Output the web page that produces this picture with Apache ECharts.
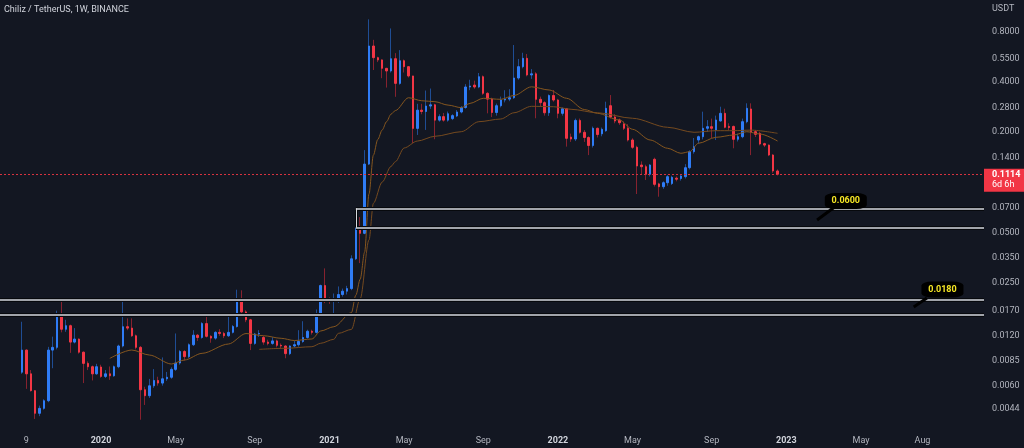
<!DOCTYPE html>
<html><head><meta charset="utf-8">
<script src="https://cdn.jsdelivr.net/npm/echarts@6/dist/echarts.min.js"></script>
<style>html,body{margin:0;padding:0;background:#131722;}#c{width:1024px;height:448px;}</style>
</head><body><div id="c"></div>
<script>
const chartTitle = 'Chiliz / TetherUS, 1W, BINANCE';
const quoteUnit = 'USDT';
// weekly candles, first candle = week of 2019-09-02
const firstCandleWeek = 5;
const open = [
.00726,.00985,.0071,.00563,.00412,.00441,.0049,.00985,.01023,.0159,
.01313,.01379,.0110,.01147,.00957,.0082,.00783,.0071,.0078,.00685,
.0071,.00691,.00783,.01042,.0136,.01334,.012,.01023,.0057,.00525,
.00602,.00648,.00625,.00663,.00677,.00755,.00824,.00966,.009,.01061,
.0121,.01172,.0142,.01191,.01162,.01258,.01239,.012,.01258,.01363,
.0196,.01668,.01496,.0108,.01229,.01172,.011,.0108,.01118,.01052,
.01042,.00938,.01042,.01061,.01109,.01172,.01277,.01258,.0159,.024,
.0196,.0193,.0196,.0212,.0222,.023,.0347,.0532,.0493,.1281,
.653,.556,.539,.480,.463,.548,.390,.533,.491,.432,
.2096,.2696,.2646,.2853,.2902,.2349,.2466,.2349,.240,.2487,
.2628,.2796,.371,.381,.371,.4276,.340,.314,.261,.2866,
.310,.314,.320,.420,.491,.551,.438,.445,.313,.299,
.260,.330,.310,.258,.275,.186,.181,.234,.1986,.1849,
.1656,.2099,.1945,.203,.2866,.2453,.2353,.2227,.2099,.1786,
.1615,.1265,.1236,.1113,.1369,.0975,.0938,.0991,.098,.1055,
.105,.1077,.1219,.152,.1786,.1869,.2099,.2146,.205,.2323,
.258,.2154,.2154,.1803,.1869,.2299,.274,.2003,.1955,.1698,
.1665,.1452,.1165];
const high = [
.01456,.00995,.00748,.00566,.00458,.0050,.0103,.01186,.01696,.0196,
.01496,.0140,.01334,.01157,.00966,.00843,.00796,.00815,.00805,.00748,
.00786,.00796,.01061,.0196,.01525,.01525,.0122,.01042,.00594,.00662,
.00758,.00682,.0089,.00729,.00777,.01239,.00985,.00985,.0108,.01296,
.01229,.01448,.01572,.0121,.01277,.01315,.01267,.01572,.01391,.02266,
.02247,.01706,.01515,.01248,.01296,.012,.01137,.01177,.01137,.0108,
.01052,.01052,.01118,.01296,.01467,.01305,.01305,.01725,.0243,.0304,
.02036,.0215,.0237,.023,.0239,.0364,.0539,.0617,.1554,.943,
.711,.563,.543,.483,.832,.592,.617,.542,.493,.433,
.2943,.2943,.3533,.3632,.2943,.2546,.2595,.2645,.255,.27,
.285,.386,.41,.405,.45,.435,.345,.32,.295,.325,
.355,.36,.662,.546,.595,.585,.475,.455,.325,.305,
.335,.356,.315,.28,.278,.195,.24,.24,.205,.188,
.215,.212,.212,.303,.332,.255,.24,.23,.222,.183,
.165,.133,.127,.128,.14,.099,.101,.11,.109,.108,
.11,.128,.155,.1836,.19,.264,.235,.24,.25,.2827,
.275,.225,.218,.195,.24,.2963,.2963,.205,.20,.172,
.168,.147,.119];
const low = [
.0071,.00577,.00556,.00381,.00396,.00433,.0048,.00767,.00995,.01258,
.01267,.00948,.0108,.00938,.00625,.00748,.00648,.00701,.00672,.0067,
.00653,.00682,.00767,.01023,.01296,.01181,.00995,.00377,.00462,.00509,
.00585,.00603,.00603,.00644,.00663,.00739,.00805,.00852,.00881,.01042,
.01118,.01153,.01172,.0109,.01137,.012,.01162,.01181,.01239,.01344,
.0162,.01448,.00985,.01061,.01181,.0106,.01052,.01061,.01023,.01004,
.0088,.00919,.01023,.01033,.0109,.01153,.0122,.01239,.01572,.01882,
.01863,.01553,.0189,.0206,.0212,.0225,.0341,.0327,.0487,.1264,
.469,.523,.419,.368,.453,.324,.383,.453,.423,.1706,
.1915,.2547,.2052,.2744,.1805,.230,.230,.230,.235,.245,
.258,.275,.355,.362,.365,.333,.258,.245,.25,.28,
.30,.305,.315,.41,.48,.43,.415,.241,.285,.25,
.249,.303,.241,.25,.163,.174,.176,.195,.174,.145,
.161,.185,.188,.20,.24,.225,.22,.205,.175,.158,
.0848,.1102,.1029,.108,.094,.0817,.091,.095,.096,.101,
.102,.105,.119,.148,.17,.18,.20,.1836,.1786,.23,
.21,.205,.1593,.175,.183,.225,.145,.186,.166,.162,
.143,.1135,.1095];
const close = [
.00985,.0071,.00563,.00412,.00441,.0049,.00985,.01023,.0159,.01313,
.01379,.0110,.01147,.00957,.0082,.00783,.0071,.00783,.00685,.0071,
.00691,.00783,.01042,.0136,.01334,.012,.01023,.0057,.00525,.00602,
.00648,.00625,.00663,.00677,.00755,.00824,.00966,.009,.01061,.0121,
.01172,.0142,.01191,.01162,.01258,.01239,.012,.01258,.01363,.0196,
.01668,.01496,.0108,.01229,.01239,.011,.0108,.01118,.01052,.01042,
.00938,.01042,.01061,.01109,.01172,.01277,.01258,.0159,.024,.0196,
.0193,.0196,.0212,.0222,.023,.0347,.0532,.0493,.1281,.653,
.556,.539,.480,.463,.548,.390,.533,.491,.432,.2096,
.2696,.2646,.2853,.2902,.2349,.2466,.2349,.2566,.250,.2628,
.2796,.371,.376,.371,.4276,.340,.314,.261,.2866,.310,
.314,.320,.420,.491,.551,.438,.445,.313,.299,.260,
.330,.310,.258,.275,.1828,.181,.234,.1986,.1849,.1656,
.2099,.1927,.207,.2765,.2453,.232,.2267,.2099,.1786,.1615,
.1248,.1236,.1113,.1265,.0969,.0938,.0991,.1077,.1067,.104,
.1087,.1219,.152,.1628,.1869,.2099,.2146,.2099,.2353,.258,
.2128,.2122,.1803,.1869,.2299,.2765,.2003,.1932,.169,.1665,
.1452,.1165,.1114];
// moving averages: [candle index, value]
const maFast = [[20,.00879],[25,.00986],[29,.0092],[34,.00813],[37,.00859],[41,.00942],[47,.01071],[51,.01238],[55,.01201],[59,.01159],[62,.01124],[66,.01148],[68,.01282],[71,.0136],[75,.0165],[76,.0210],[77,.0262],[78,.038],[79,.085],[80,.145],[81,.180],[82,.205],[83,.230],[84,.255],[85,.268],[88,.320],[91,.307],[94,.303],[97,.289],[100,.279],[102,.296],[105,.3175],[109,.313],[112,.33],[116,.372],[120,.356],[124,.3175],[128,.272],[131,.258],[136,.2353],[139,.207],[143,.1786],[147,.1593],[150,.1487],[152,.152],[154,.1707],[158,.1854],[162,.1913],[165,.2003],[168,.194],[172,.1761]];
const maSlow = [[54,.00995],[60,.0101],[66,.01032],[68,.01082],[71,.01143],[72,.0124],[75,.0131],[77,.0200],[79,.045],[80,.0746],[82,.1000],[84,.1240],[85,.1324],[87,.1600],[90,.1760],[94,.1880],[100,.2003],[104,.2299],[109,.2386],[112,.2600],[116,.2843],[121,.2827],[125,.2728],[131,.260],[139,.241],[147,.2128],[153,.1986],[158,.2031],[162,.2031],[166,.2046],[172,.1959]];
const yTicks = [0.8, 0.55, 0.4, 0.28, 0.2, 0.14, 0.07, 0.05, 0.035, 0.025, 0.017, 0.012, 0.0085, 0.006, 0.0044];
const xTickLabels = [['2019-09-09','9'],['2020-01-06','2020'],['2020-05-04','May'],['2020-09-07','Sep'],['2021-01-04','2021'],['2021-05-03','May'],['2021-09-06','Sep'],['2022-01-03','2022'],['2022-05-02','May'],['2022-09-05','Sep'],['2023-01-02','2023'],['2023-05-01','May'],['2023-08-07','Aug']];
const lastPrice = 0.1114, countdown = '6d 6h';
// drawn zones (rectangles) and callouts
const zoneUpper = {fromWeek: 81, top: 0.0696, bottom: 0.0533, leftEdge: true};
const zoneLower = {fromWeek: 0, top: 0.01966, bottom: 0.01609, leftEdge: false};
const callouts = [
  {text: '0.0600', boxWeek: 193, boxValue: 0.0770, tipWeek: 186, tipValue: 0.0592, baseWeek: 190, baseValue: 0.0709},
  {text: '0.0180', boxWeek: 215, boxValue: 0.02272, tipWeek: 208, tipValue: 0.01784, baseWeek: 211, baseValue: 0.0202}
];

const weeks = [];
for (let k = 0; k < 225; k++) weeks.push(new Date(Date.UTC(2019, 6, 29) + k * 604800000).toISOString().slice(0, 10));
const labelMap = {};
xTickLabels.forEach(([d, t]) => labelMap[d] = t);

const UP = '#2f7cf6', DOWN = '#f23645', UPW = '#1f4d94', DOWNW = '#86222f';
const candleData = open.map((o, i) => [weeks[firstCandleWeek + i], o, close[i], low[i], high[i]]);
const bodyData = open.map((o, i) => [weeks[firstCandleWeek + i], o, close[i], Math.min(o, close[i]), Math.max(o, close[i])]);
const lastW = weeks.length - 1;

const markLineData = [];
// zone outlines: dark halo then light line
function seg(x1, y1, x2, y2, color, width, type) {
  return [{coord: [weeks[x1], y1], lineStyle: {color: color, width: width, type: type || 'solid'}, label: {show: false}},
          {coord: [weeks[x2], y2]}];
}
[['#07090d', 4], ['#d6d9df', 1.5]].forEach(([col, w]) => {
  [zoneUpper, zoneLower].forEach(z => {
    markLineData.push(seg(z.fromWeek, z.top, lastW, z.top, col, w));
    markLineData.push(seg(z.fromWeek, z.bottom, lastW, z.bottom, col, w));
    if (z.leftEdge) markLineData.push(seg(z.fromWeek, z.top, z.fromWeek, z.bottom, col, w === 4 ? 3 : 1));
  });
});
callouts.forEach(c => markLineData.push(seg(c.tipWeek, c.tipValue, c.baseWeek, c.baseValue, '#000', 3)));
// last price line (dotted red) across the plot
markLineData.push(seg(0, lastPrice, lastW, lastPrice, '#d8323f', 1, [2, 2]));
// last price label box
markLineData.push({yAxis: lastPrice, lineStyle: {color: 'rgba(0,0,0,0)', width: 0},
   label: {show: true, position: 'end', distance: 0, offset: [0, 5],
     formatter: '{a|' + lastPrice.toFixed(4) + '}\n{b|' + countdown + '}',
     backgroundColor: DOWN, padding: [1, 4, 2, 8],
     rich: {a: {color: '#fff', fontSize: 9, fontWeight: 'bold', lineHeight: 10, fontFamily: 'Roboto'},
            b: {color: '#fff', fontSize: 9, lineHeight: 10, fontFamily: 'Roboto'}}}});

const chart = echarts.init(document.getElementById('c'), null, {renderer: 'canvas'});
chart.setOption({
  backgroundColor: '#131722',
  animation: false,
  grid: {left: 0, right: 40, top: 0, bottom: 17},
  xAxis: {
    type: 'category', data: weeks, boundaryGap: false,
    axisLine: {show: false}, axisTick: {show: false}, splitLine: {show: false},
    axisLabel: {
      interval: (idx, val) => labelMap[val] !== undefined,
      formatter: val => {
        const t = labelMap[val]; if (!t) return '';
        return /^\d{4}$/.test(t) ? '{y|' + t + '}' : '{m|' + t + '}';
      },
      margin: 5,
      rich: {y: {color: '#d1d4dc', fontSize: 9, fontWeight: 'bold', fontFamily: 'Roboto'},
             m: {color: '#b2b5be', fontSize: 9, fontFamily: 'Roboto'}}
    }
  },
  yAxis: {
    type: 'log', position: 'right', min: 0.003227, max: 1.2317,
    axisLine: {show: false}, axisTick: {show: false}, splitLine: {show: false},
    axisLabel: {customValues: yTicks, formatter: v => v.toFixed(4), color: '#b2b5be', fontSize: 9, fontFamily: 'Roboto', margin: 8}
  },
  graphic: [
    {type: 'text', left: 4, top: 5, style: {text: chartTitle, fill: '#d1d4dc', fontSize: 9, fontFamily: 'Roboto'}},
    {type: 'text', left: 992, top: 4, style: {text: quoteUnit, fill: '#b2b5be', fontSize: 9, fontFamily: 'Roboto'}}
  ],
  series: [
    {type: 'candlestick', name: 'wicks', data: candleData, encode: {x: 0, y: [1, 2, 3, 4]}, barWidth: 1,
     itemStyle: {color: UPW, color0: DOWNW, borderColor: UPW, borderColor0: DOWNW, borderWidth: 1}},
    {type: 'candlestick', name: 'bodies', data: bodyData, encode: {x: 0, y: [1, 2, 3, 4]}, barWidth: 2,
     itemStyle: {color: UP, color0: DOWN, borderColor: UP, borderColor0: DOWN, borderWidth: 1}},
    {type: 'line', name: 'MA fast', data: maFast.map(([i, v]) => [weeks[firstCandleWeek + i], v]),
     smooth: 0.3, smoothMonotone: 'x', showSymbol: false, lineStyle: {color: '#85561f', width: 1}},
    {type: 'line', name: 'MA slow', data: maSlow.map(([i, v]) => [weeks[firstCandleWeek + i], v]),
     smooth: 0.3, smoothMonotone: 'x', showSymbol: false, lineStyle: {color: '#754a1f', width: 1},
     markLine: {silent: true, symbol: ['none', 'none'], data: markLineData},
     markPoint: {silent: true,
       data: callouts.map(c => ({coord: [weeks[c.boxWeek], c.boxValue], symbol: 'roundRect', symbolSize: [42, 16], symbolOffset: [-2, 0],
         itemStyle: {color: '#000'},
         label: {show: true, position: 'inside', formatter: c.text, color: '#f5e625', fontSize: 9, fontWeight: 'bold', fontFamily: 'Roboto'}}))}
    }
  ]
});
</script></body></html>
